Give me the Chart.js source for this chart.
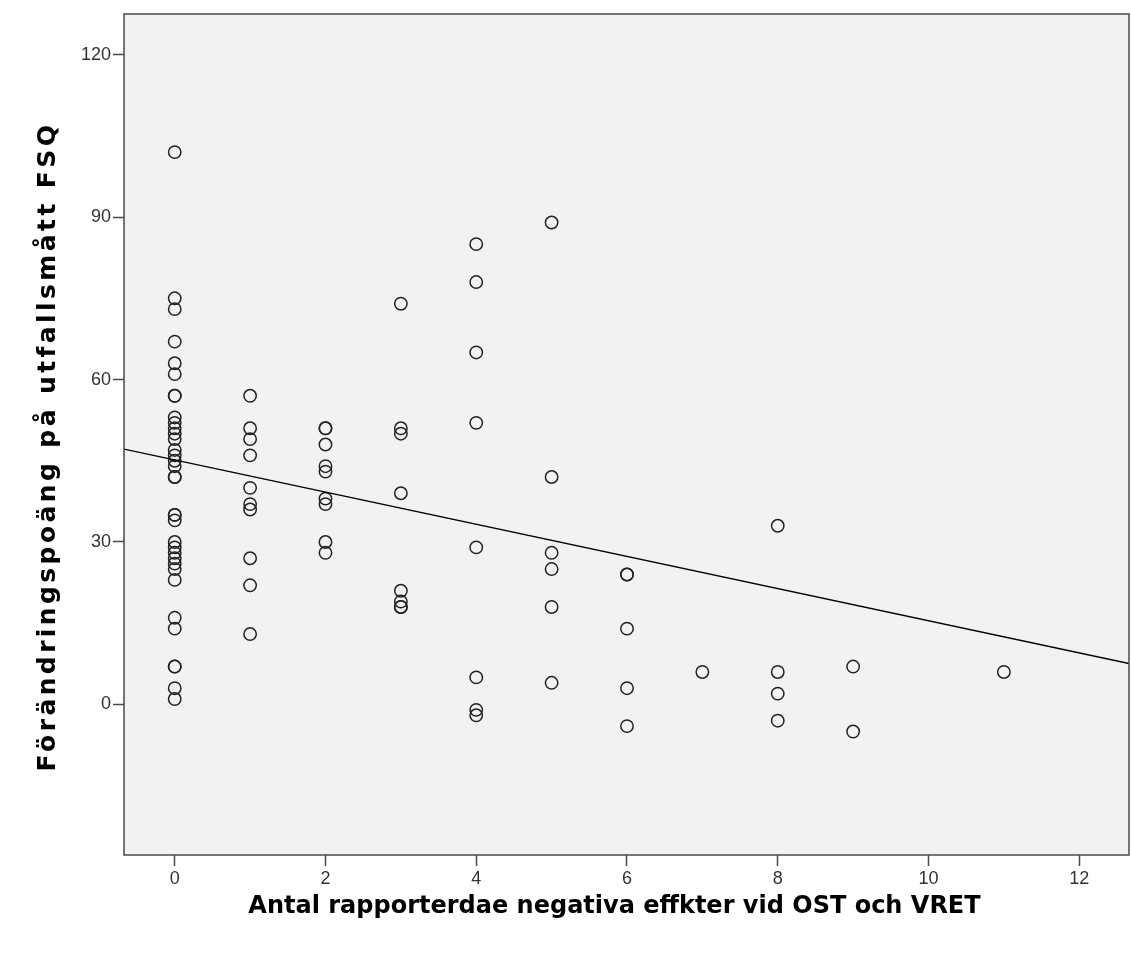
<!DOCTYPE html>
<html>
<head>
<meta charset="utf-8">
<script src="https://cdn.jsdelivr.net/npm/chart.js@4.4.1/dist/chart.umd.min.js"></script>
<style>
  html, body { margin: 0; padding: 0; background: #ffffff; }
  #wrap { width: 1131px; height: 963px; position: relative; }
</style>
</head>
<body>
<div id="wrap"><canvas id="c"></canvas></div>
<script>
// Number of reported negative effects (x) for each participant
const negEffects = [
  0,0,0,0,0,0,0,0,0,0,0,0,0,0,0,0,0,0,0,0,0,0,0,0,0,0,0,0,0,0,0,0,0,0,0,
  1,1,1,1,1,1,1,1,1,1,
  2,2,2,2,2,2,2,2,2,
  3,3,3,3,3,3,3,3,
  4,4,4,4,4,4,4,4,
  5,5,5,5,5,5,
  6,6,6,6,6,
  7,
  8,8,8,8,
  9,9,
  11
];
// Change score on outcome measure FSQ (y) for each participant
const fsqChange = [
  102,75,73,67,63,61,57,57,53,52,51,50,49,47,46,45,44,42,42,35,35,34,30,29,28,27,26,25,23,16,14,7,7,3,1,
  57,51,49,46,40,37,36,27,22,13,
  51,51,48,44,43,38,37,30,28,
  74,51,50,39,21,19,18,18,
  85,78,65,52,29,5,-1,-2,
  89,42,28,25,18,4,
  24,24,14,3,-4,
  6,
  33,6,2,-3,
  7,-5,
  6
];
// Fit line end points
const fitLineX = [-0.673, 12.66];
const fitLineY = [47.16, 7.57];
// Axis ranges and tick steps
const xRange = [-0.673, 12.66];
const yRange = [-27.8, 127.5];
const xTickStep = 2;
const yTickStep = 30;

const xTitle = 'Antal rapporterdae negativa effkter vid OST och VRET';
const yTitle = 'Förändringspoäng på utfallsmått FSQ';

const scatterPoints = negEffects.map((x, i) => ({ x: x, y: fsqChange[i] }));
const fitPoints = fitLineX.map((x, i) => ({ x: x, y: fitLineY[i] }));

function patchTitle(scale, spacing, dx, dy) {
  if (!scale || scale._patchedTitle) return;
  const orig = scale.drawTitle;
  scale.drawTitle = function () {
    const ctx = this.ctx;
    ctx.save();
    ctx.letterSpacing = spacing;
    ctx.translate(dx, dy);
    orig.apply(this, arguments);
    ctx.restore();
  };
  scale._patchedTitle = true;
}

const plotFrame = {
  id: 'plotFrame',
  afterLayout(chart) {
    patchTitle(chart.scales.y, '3.4px', 0, 12);
    patchTitle(chart.scales.x, '0px', -12, 0);
  },
  beforeDraw(chart) {
    const { ctx, chartArea: a } = chart;
    ctx.save();
    ctx.fillStyle = '#f2f2f2';
    ctx.fillRect(a.left, a.top, a.right - a.left, a.bottom - a.top);
    ctx.restore();
  },
  afterDraw(chart) {
    const { ctx, chartArea: a } = chart;
    ctx.save();
    ctx.strokeStyle = '#4a4a4a';
    ctx.lineWidth = 1.5;
    ctx.strokeRect(a.left, a.top, a.right - a.left, a.bottom - a.top);
    ctx.restore();
  }
};

const tickFont = { family: 'Liberation Sans, Arial, sans-serif', size: 18 };
const xTitleFont = { family: 'DejaVu Sans, Verdana, sans-serif', size: 24, weight: 'bold' };
const yTitleFont = { family: 'DejaVu Sans, Verdana, sans-serif', size: 25, weight: 'bold' };

new Chart(document.getElementById('c'), {
  type: 'scatter',
  data: {
    datasets: [
      {
        type: 'scatter',
        data: scatterPoints,
        pointStyle: 'circle',
        pointRadius: 6.2,
        pointHoverRadius: 6.2,
        borderWidth: 1.5,
        borderColor: '#222222',
        backgroundColor: 'rgba(0,0,0,0)',
        order: 2
      },
      {
        type: 'line',
        data: fitPoints,
        borderColor: '#000000',
        borderWidth: 1.4,
        pointRadius: 0,
        fill: false,
        tension: 0,
        order: 1
      }
    ]
  },
  plugins: [plotFrame],
  options: {
    responsive: true,
    maintainAspectRatio: false,
    animation: false,
    events: [],
    layout: { autoPadding: false, padding: { top: 14, right: 2, left: 0, bottom: 0 } },
    plugins: {
      legend: { display: false },
      tooltip: { enabled: false }
    },
    scales: {
      x: {
        type: 'linear',
        position: 'bottom',
        min: xRange[0],
        max: xRange[1],
        afterFit(scale) { scale.height = 108; },
        border: { display: false },
        grid: {
          drawOnChartArea: false,
          drawTicks: true,
          tickLength: 11,
          tickWidth: 1.5,
          tickColor: '#4a4a4a'
        },
        ticks: {
          stepSize: xTickStep,
          includeBounds: false,
          autoSkip: false,
          maxRotation: 0,
          padding: 2,
          color: '#333333',
          font: tickFont
        },
        title: {
          display: true,
          text: xTitle,
          color: '#000000',
          font: xTitleFont,
          padding: { top: 0, bottom: 41.6 }
        }
      },
      y: {
        type: 'linear',
        position: 'left',
        min: yRange[0],
        max: yRange[1],
        afterFit(scale) { scale.width = 124; },
        border: { display: false },
        grid: {
          drawOnChartArea: false,
          drawTicks: true,
          tickLength: 11,
          tickWidth: 1.5,
          tickColor: '#4a4a4a'
        },
        ticks: {
          stepSize: yTickStep,
          includeBounds: false,
          autoSkip: false,
          padding: 2,
          color: '#333333',
          font: tickFont
        },
        title: {
          display: true,
          text: yTitle,
          color: '#000000',
          font: yTitleFont,
          padding: { top: 33, bottom: 0 }
        }
      }
    }
  }
});
</script>
</body>
</html>
